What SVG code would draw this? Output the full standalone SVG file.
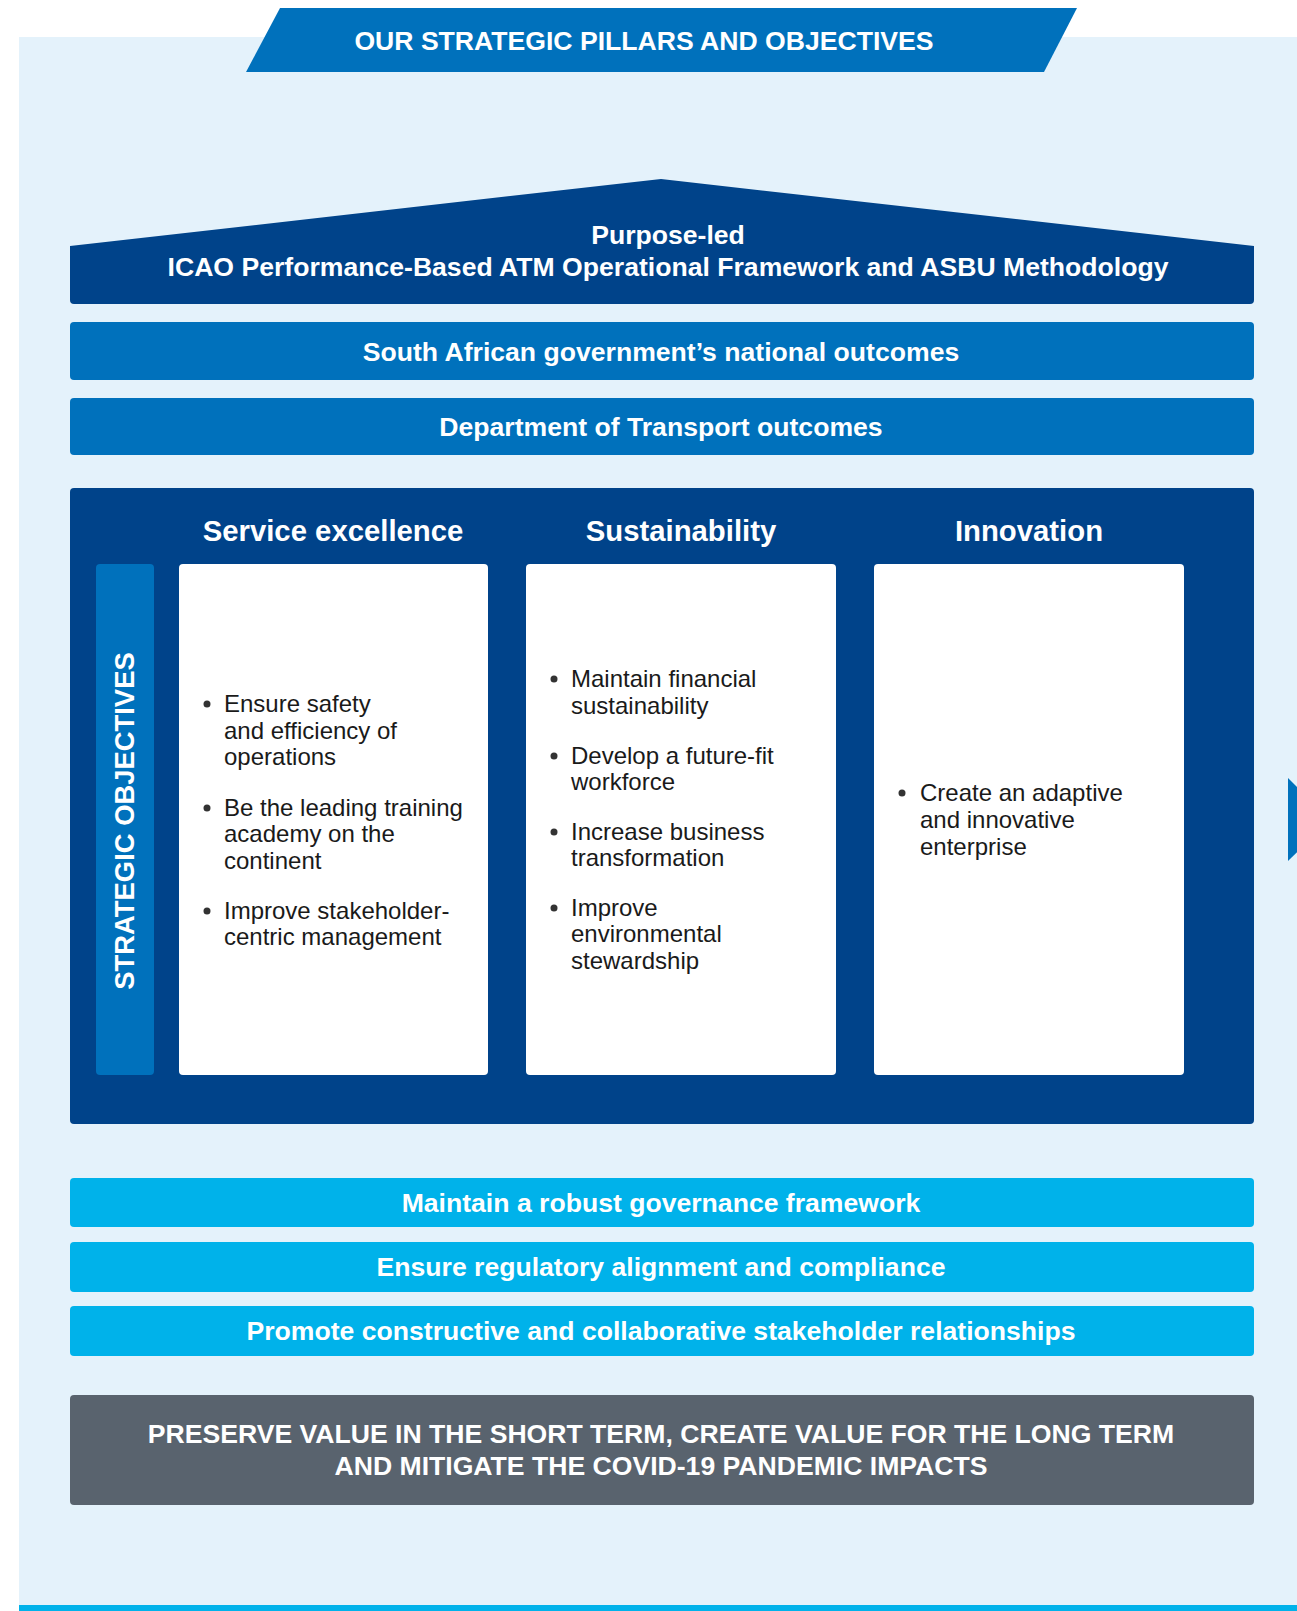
<svg xmlns="http://www.w3.org/2000/svg" width="1297" height="1611" viewBox="0 0 1297 1611">
<style>
text{font-family:"Liberation Sans",Arial,sans-serif}
.hw{fill:#fff;font-weight:bold;font-size:26.6px;text-anchor:middle}
.hh{fill:#fff;font-weight:bold;font-size:29.3px;text-anchor:middle}
.body{fill:#1a1a1a;font-size:24px}
.mid{fill:#0071BC}
.cy{fill:#00B2EA}
.dot{fill:#333}
</style>
<rect x="0" y="0" width="1297" height="1611" fill="#fff"/>
<rect id="background" x="19" y="37" width="1278" height="1568" fill="#E4F2FB"/>
<rect x="19" y="1605" width="1278" height="6" fill="#00B2EA"/>

<g id="title">
<polygon points="280,8 1077,8 1044,72 246,72" fill="#0071BC"/>
<text class="hw" x="644" y="50">OUR STRATEGIC PILLARS AND OBJECTIVES</text>
</g>

<g id="roof">
<path d="M70,246 L661,179 L1254,246 L1254,300 Q1254,304 1250,304 L74,304 Q70,304 70,300 Z" fill="#00438A"/>
<text class="hw" x="668" y="244">Purpose-led</text>
<text class="hw" x="668" y="276">ICAO Performance-Based ATM Operational Framework and ASBU Methodology</text>
</g>

<g id="national">
<rect class="mid" x="70" y="322" width="1184" height="58" rx="4"/>
<text class="hw" x="661" y="361">South African government’s national outcomes</text>
</g>

<g id="dot-outcomes">
<rect class="mid" x="70" y="398" width="1184" height="57" rx="4"/>
<text class="hw" x="661" y="436">Department of Transport outcomes</text>
</g>

<g id="pillars">
<rect x="70" y="488" width="1184" height="636" rx="4" fill="#00438A"/>
</g>

<g id="strategic-objectives">
<rect class="mid" x="96" y="564" width="58" height="511" rx="4"/>
<text class="hw" style="font-size:27.4px" transform="translate(134,821) rotate(-90)" x="0" y="0">STRATEGIC OBJECTIVES</text>
</g>

<g id="service-excellence">
<text class="hh" x="333" y="541">Service excellence</text>
<rect x="179" y="564" width="309" height="511" rx="4" fill="#fff"/>
<circle class="dot" cx="207" cy="704" r="3.5"/>
<circle class="dot" cx="207" cy="808" r="3.5"/>
<circle class="dot" cx="207" cy="911" r="3.5"/>
<text class="body"><tspan x="224" y="712">Ensure safety</tspan><tspan x="224" y="739">and efficiency of</tspan><tspan x="224" y="765">operations</tspan><tspan x="224" y="816">Be the leading training</tspan><tspan x="224" y="842">academy on the</tspan><tspan x="224" y="869">continent</tspan><tspan x="224" y="919">Improve stakeholder-</tspan><tspan x="224" y="945">centric management</tspan></text>
</g>

<g id="sustainability">
<text class="hh" x="681" y="541">Sustainability</text>
<rect x="526" y="564" width="310" height="511" rx="4" fill="#fff"/>
<circle class="dot" cx="554" cy="679" r="3.5"/>
<circle class="dot" cx="554" cy="756" r="3.5"/>
<circle class="dot" cx="554" cy="832" r="3.5"/>
<circle class="dot" cx="554" cy="908" r="3.5"/>
<text class="body"><tspan x="571" y="687">Maintain financial</tspan><tspan x="571" y="714">sustainability</tspan><tspan x="571" y="764">Develop a future-fit</tspan><tspan x="571" y="790">workforce</tspan><tspan x="571" y="840">Increase business</tspan><tspan x="571" y="866">transformation</tspan><tspan x="571" y="916">Improve</tspan><tspan x="571" y="942">environmental</tspan><tspan x="571" y="969">stewardship</tspan></text>
</g>

<g id="innovation">
<text class="hh" x="1029" y="541">Innovation</text>
<rect x="874" y="564" width="310" height="511" rx="4" fill="#fff"/>
<circle class="dot" cx="902" cy="793" r="3.5"/>
<text class="body"><tspan x="920" y="801">Create an adaptive</tspan><tspan x="920" y="828">and innovative</tspan><tspan x="920" y="855">enterprise</tspan></text>
</g>

<g id="governance">
<rect class="cy" x="70" y="1178" width="1184" height="49" rx="4"/>
<text class="hw" x="661" y="1212">Maintain a robust governance framework</text>
</g>

<g id="compliance">
<rect class="cy" x="70" y="1242" width="1184" height="50" rx="4"/>
<text class="hw" x="661" y="1276">Ensure regulatory alignment and compliance</text>
</g>

<g id="stakeholders">
<rect class="cy" x="70" y="1306" width="1184" height="50" rx="4"/>
<text class="hw" x="661" y="1340">Promote constructive and collaborative stakeholder relationships</text>
</g>

<g id="value">
<rect x="70" y="1395" width="1184" height="110" rx="4" fill="#59636E"/>
<text class="hw" x="661" y="1443">PRESERVE VALUE IN THE SHORT TERM, CREATE VALUE FOR THE LONG TERM</text>
<text class="hw" x="661" y="1475">AND MITIGATE THE COVID-19 PANDEMIC IMPACTS</text>
</g>

<g id="connectors">
<polygon points="1288,778 1330,820 1288,861" fill="#0071BC"/>
</g>
</svg>
